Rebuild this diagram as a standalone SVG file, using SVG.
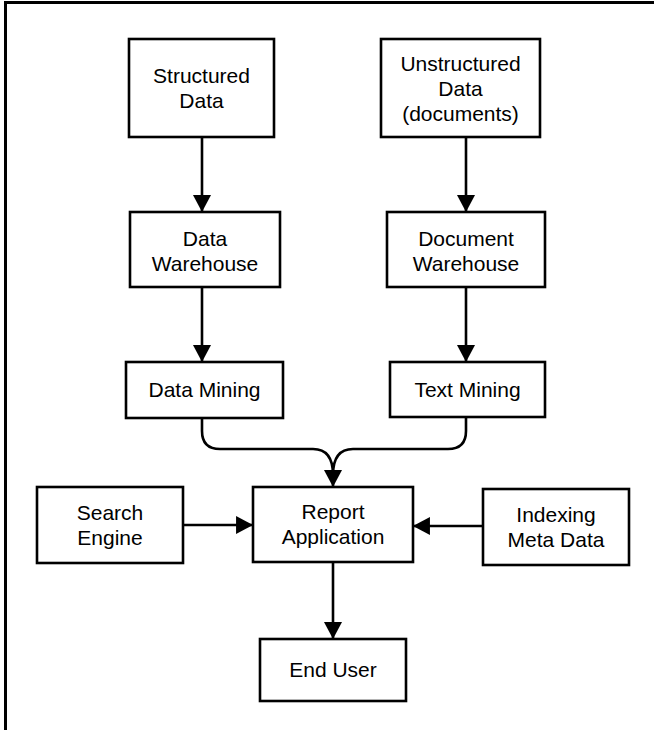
<svg xmlns="http://www.w3.org/2000/svg" width="654" height="730" viewBox="0 0 654 730">
<style>
.box{fill:#fff;stroke:#000;stroke-width:2.6}
.lbl{font-family:"Liberation Sans",Arial,Helvetica,sans-serif;font-size:21px;fill:#000;text-anchor:middle}
.con{fill:none;stroke:#000;stroke-width:2.6}
</style>
<defs>
<marker id="ah" markerUnits="userSpaceOnUse" markerWidth="18" markerHeight="18" viewBox="0 0 16 17" refX="16" refY="8.5" orient="auto">
<path d="M0,0 L16,8.5 L0,17 Z" fill="#000"/>
</marker>
</defs>
<rect width="654" height="730" fill="#fff"/>
<path d="M5.5,730 V2.5 H654" fill="none" stroke="#000" stroke-width="3"/>
<g id="connectors">
<line class="con" x1="202" y1="137" x2="202" y2="212" marker-end="url(#ah)"/>
<line class="con" x1="466" y1="137" x2="466" y2="212" marker-end="url(#ah)"/>
<line class="con" x1="202" y1="287" x2="202" y2="362" marker-end="url(#ah)"/>
<line class="con" x1="466" y1="287" x2="466" y2="362" marker-end="url(#ah)"/>
<path class="con" d="M202,418 V431 Q202,449 220,449 H313 Q333,449 333,475 V487" marker-end="url(#ah)"/>
<path class="con" d="M466,417 V431 Q466,449 448,449 H353 Q333,449 333,475"/>
<line class="con" x1="183" y1="525" x2="253" y2="525" marker-end="url(#ah)"/>
<line class="con" x1="483" y1="526" x2="413" y2="526" marker-end="url(#ah)"/>
<line class="con" x1="333" y1="562" x2="333" y2="639" marker-end="url(#ah)"/>
</g>
<g id="structured-data">
<rect class="box" x="129" y="39" width="145" height="98"/>
<text class="lbl" x="201.5" y="83">Structured</text>
<text class="lbl" x="201.5" y="108">Data</text>
</g>
<g id="unstructured-data">
<rect class="box" x="381" y="39" width="159" height="98"/>
<text class="lbl" x="460.5" y="71">Unstructured</text>
<text class="lbl" x="460.5" y="96">Data</text>
<text class="lbl" x="460.5" y="121">(documents)</text>
</g>
<g id="data-warehouse">
<rect class="box" x="130" y="212" width="150" height="75"/>
<text class="lbl" x="205" y="246">Data</text>
<text class="lbl" x="205" y="271">Warehouse</text>
</g>
<g id="document-warehouse">
<rect class="box" x="387" y="212" width="158" height="75"/>
<text class="lbl" x="466" y="246">Document</text>
<text class="lbl" x="466" y="271">Warehouse</text>
</g>
<g id="data-mining">
<rect class="box" x="126" y="362" width="157" height="56"/>
<text class="lbl" x="204.5" y="397">Data Mining</text>
</g>
<g id="text-mining">
<rect class="box" x="390" y="362" width="155" height="55"/>
<text class="lbl" x="467.5" y="397">Text Mining</text>
</g>
<g id="report-application">
<rect class="box" x="253" y="487" width="160" height="75"/>
<text class="lbl" x="333" y="519">Report</text>
<text class="lbl" x="333" y="544">Application</text>
</g>
<g id="search-engine">
<rect class="box" x="37" y="487" width="146" height="76"/>
<text class="lbl" x="110" y="520">Search</text>
<text class="lbl" x="110" y="545">Engine</text>
</g>
<g id="indexing-meta-data">
<rect class="box" x="483" y="489" width="146" height="76"/>
<text class="lbl" x="556" y="522">Indexing</text>
<text class="lbl" x="556" y="547">Meta Data</text>
</g>
<g id="end-user">
<rect class="box" x="260" y="639" width="146" height="62"/>
<text class="lbl" x="333" y="677">End User</text>
</g>
</svg>
